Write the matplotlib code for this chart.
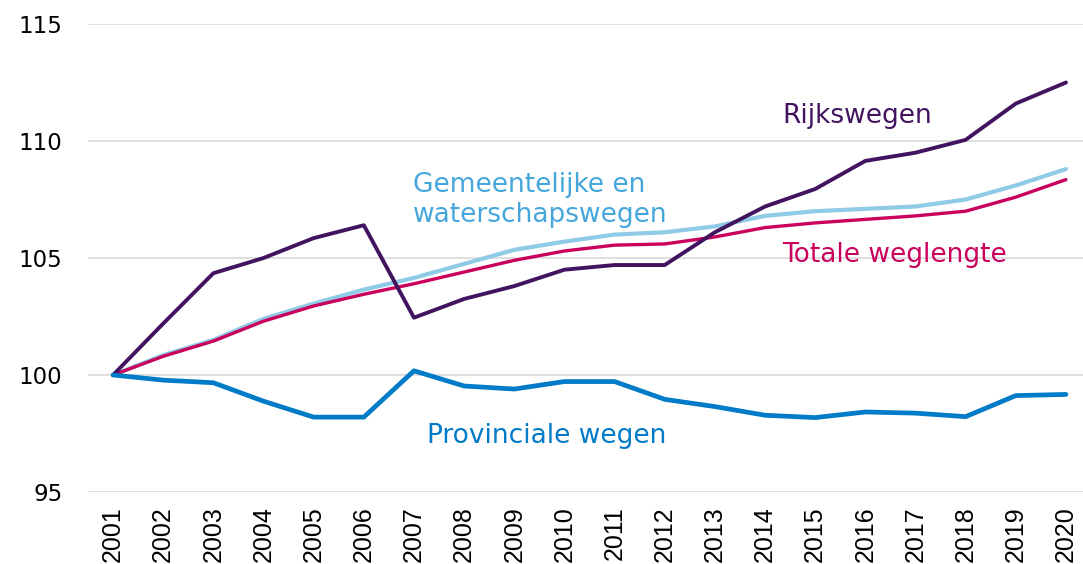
import matplotlib
matplotlib.use("Agg")
import matplotlib.pyplot as plt

years = list(range(2001, 2021))
rijkswegen = [100.0, 102.2, 104.35, 105.0, 105.85, 106.4, 102.45, 103.25, 103.8, 104.5,
              104.7, 104.7, 106.1, 107.2, 107.95, 109.15, 109.5, 110.05, 111.6, 112.5]
gemeentelijk = [100.0, 100.85, 101.5, 102.4, 103.05, 103.65, 104.15, 104.75, 105.35, 105.7,
                106.0, 106.1, 106.35, 106.8, 107.0, 107.1, 107.2, 107.5, 108.1, 108.8]
totaal = [100.0, 100.8, 101.45, 102.3, 102.95, 103.45, 103.9, 104.4, 104.9, 105.3,
          105.55, 105.6, 105.9, 106.3, 106.5, 106.65, 106.8, 107.0, 107.6, 108.35]
provinciaal = [100.0, 99.78, 99.67, 98.88, 98.2, 98.2, 100.18, 99.53, 99.4, 99.72,
               99.72, 98.96, 98.65, 98.28, 98.18, 98.42, 98.37, 98.22, 99.12, 99.17]
yticks = [95, 100, 105, 110, 115]

c_rijk = "#42145f"
c_gem = "#8fcae7"
c_gem_txt = "#45a6dc"
c_tot = "#ca005d"
c_prov = "#007bc7"

fig = plt.figure(figsize=(10.83, 5.64), dpi=100)
ax = fig.add_axes([88/1083, 72/564, 1 - 88/1083, (492-24)/564])

ax.plot(years, totaal, color=c_tot, lw=2.4, solid_capstyle="round", zorder=3)
ax.plot(years, gemeentelijk, color=c_gem, lw=3.0, solid_capstyle="round", zorder=2)
ax.plot(years, rijkswegen, color=c_rijk, lw=2.8, solid_capstyle="round", zorder=4)
ax.plot(years, provinciaal, color=c_prov, lw=3.4, solid_capstyle="round", zorder=4)

ax.set_xlim(2000.5, 2020.34)
ax.set_ylim(95, 115)
ax.set_yticks(yticks)
ax.set_xticks(years)
ax.set_xticklabels([str(y) for y in years], rotation=90, fontsize=18,
                   family="Liberation Sans", va="top")
ax.set_yticklabels([str(v) for v in yticks], fontsize=16.5)
ax.tick_params(axis="y", length=0, pad=18.5)
ax.tick_params(axis="x", length=0, pad=10)
ax.grid(axis="y", color="#d9d9d9", lw=1.2)
ax.set_axisbelow(True)
for s in ax.spines.values():
    s.set_visible(False)

fs = 19
ax.text(2014.35, 110.76, "Rijkswegen", color=c_rijk, fontsize=fs, ha="left", va="baseline")
ax.text(2014.35, 104.84, "Totale weglengte", color=c_tot, fontsize=fs, ha="left", va="baseline")
ax.text(2007.25, 97.08, "Provinciale wegen", color=c_prov, fontsize=fs, ha="left", va="baseline")
ax.text(2006.98, 107.83, "Gemeentelijke en", color=c_gem_txt, fontsize=fs, ha="left", va="baseline")
ax.text(2006.98, 106.55, "waterschapswegen", color=c_gem_txt, fontsize=fs, ha="left", va="baseline")

fig.savefig("out.png", dpi=100)
